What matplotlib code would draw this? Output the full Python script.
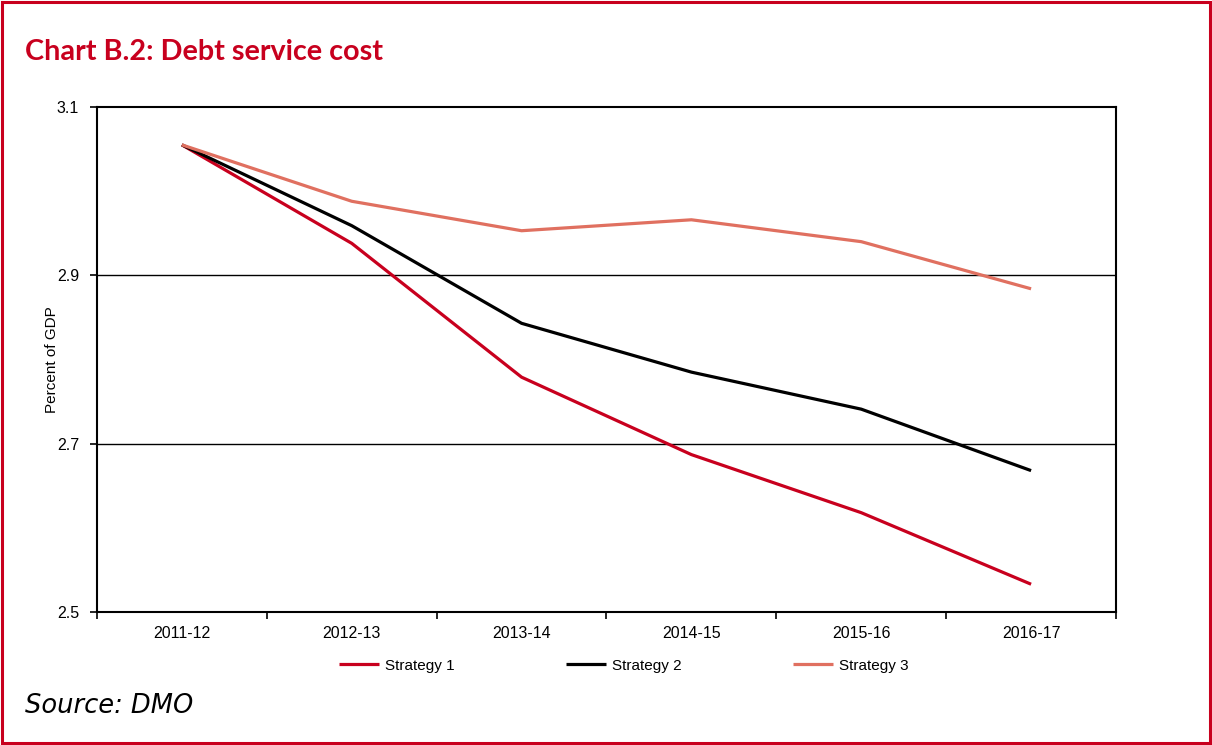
import matplotlib
matplotlib.use("Agg")
import matplotlib.pyplot as plt
from matplotlib.patches import Rectangle
from matplotlib.ticker import FixedLocator

categories = ["2011-12", "2012-13", "2013-14", "2014-15", "2015-16", "2016-17"]
strategy1 = [3.055, 2.938, 2.779, 2.687, 2.618, 2.533]
strategy2 = [3.055, 2.959, 2.843, 2.785, 2.741, 2.668]
strategy3 = [3.055, 2.988, 2.953, 2.966, 2.940, 2.884]
yticks = [2.5, 2.7, 2.9, 3.1]

RED = "#c8001e"
fig = plt.figure(figsize=(12.12, 7.45), dpi=100)
fig.patches.append(Rectangle((0.002, 0.003), 0.996, 0.994, transform=fig.transFigure,
                             fill=False, edgecolor=RED, linewidth=2.2))

ax = fig.add_axes([97/1212, 1-612/745, (1116-97)/1212, (612-107)/745])
x = list(range(len(categories)))
ax.plot(x, strategy1, color="#c8001e", lw=2.3, label="Strategy 1", solid_capstyle="butt")
ax.plot(x, strategy2, color="#000000", lw=2.3, label="Strategy 2", solid_capstyle="butt")
ax.plot(x, strategy3, color="#e07060", lw=2.3, label="Strategy 3", solid_capstyle="butt")

ax.set_xlim(-0.5, len(categories) - 0.5)
ax.set_ylim(2.5, 3.1)
ax.set_yticks(yticks)
ax.set_yticklabels([f"{v:.1f}" for v in yticks], fontsize=11.5, family="Liberation Sans")
for v in yticks[1:-1]:
    ax.axhline(v, color="black", lw=1.0, zorder=0)

ax.set_xticks(x)
ax.set_xticklabels(categories, fontsize=11.5, family="Liberation Sans")
ax.tick_params(axis="x", which="major", length=0, pad=10)
ax.xaxis.set_minor_locator(FixedLocator([i - 0.5 for i in range(len(categories) + 1)]))
ax.tick_params(axis="x", which="minor", length=5, width=1.2, direction="out")
ax.tick_params(axis="y", length=5, width=1.2, direction="out", pad=8)
for s in ax.spines.values():
    s.set_linewidth(1.5)
    s.set_color("black")

ax.set_ylabel("Percent of GDP", fontsize=11, family="Liberation Sans")
ax.yaxis.set_label_coords(-0.037, 0.5)

leg = ax.legend(loc="upper center", bbox_to_anchor=(0.517, -0.065), ncol=3, frameon=False,
                prop={"family": "Liberation Sans", "size": 11}, handlelength=2.6,
                handletextpad=0.4, columnspacing=7.3)

fig.text(25/1212, 1-52/745, "Chart B.2: Debt service cost", color=RED, fontsize=20.7,
         family="Lato", weight="bold", va="center", ha="left")
fig.text(25/1212, 1-706/745, "Source: DMO", color="black", fontsize=18.5,
         family="DejaVu Sans", style="italic", va="center", ha="left")

fig.savefig("out.png", dpi=100)
